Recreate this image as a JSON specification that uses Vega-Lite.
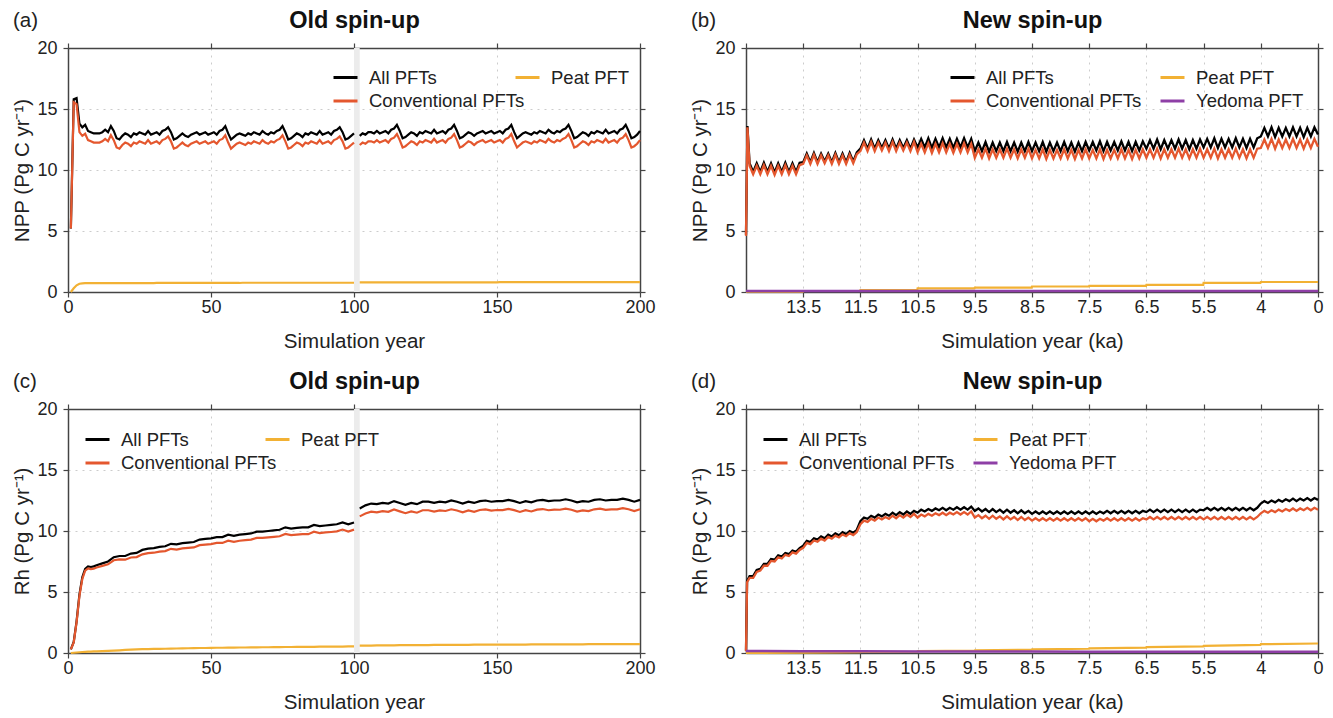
{
"$schema": "https://vega.github.io/schema/vega-lite/v6.json",
"background": "white",
"padding": {"left": 12, "top": 8, "right": 5, "bottom": 5},
"columns": 2,
"spacing": {"row": 117, "column": 106},
"bounds": "flush",
"resolve": {"scale": {"x": "independent", "y": "independent", "color": "independent", "stroke": "independent"}, "axis": {"x": "independent", "y": "independent"}, "legend": {"color": "independent", "stroke": "independent"}},
"datasets": {
"a": [
{"t":1,"a":5.2,"c":5.2,"p":0,"s":1},{"t":2,"a":15.8,"c":15.55,"p":0.3,"s":1},{"t":3,"a":15.9,"c":15.4,"p":0.55,"s":1},{"t":4,"a":13.8,"c":13.1,"p":0.68,"s":1},{"t":5,"a":13.5,"c":12.8,"p":0.71,"s":1},{"t":6,"a":13.7,"c":12.97,"p":0.72,"s":1},{"t":7,"a":13.2,"c":12.45,"p":0.73,"s":1},{"t":8,"a":13.1,"c":12.35,"p":0.73,"s":1},{"t":9,"a":13.0,"c":12.25,"p":0.73,"s":1},{"t":10,"a":13.0,"c":12.25,"p":0.73,"s":1},
{"t":11,"a":13.0,"c":12.25,"p":0.73,"s":1},{"t":12,"a":13.1,"c":12.35,"p":0.73,"s":1},{"t":13,"a":13.3,"c":12.55,"p":0.73,"s":1},{"t":14,"a":13.1,"c":12.35,"p":0.73,"s":1},{"t":15,"a":13.6,"c":12.85,"p":0.73,"s":1},{"t":16,"a":13.2,"c":12.45,"p":0.73,"s":1},{"t":17,"a":12.6,"c":11.85,"p":0.73,"s":1},{"t":18,"a":12.5,"c":11.75,"p":0.73,"s":1},{"t":19,"a":12.8,"c":12.05,"p":0.73,"s":1},{"t":20,"a":13.0,"c":12.25,"p":0.73,"s":1},
{"t":21,"a":12.9,"c":12.15,"p":0.73,"s":1},{"t":22,"a":12.7,"c":11.95,"p":0.73,"s":1},{"t":23,"a":13.0,"c":12.25,"p":0.73,"s":1},{"t":24,"a":12.9,"c":12.15,"p":0.73,"s":1},{"t":25,"a":13.1,"c":12.35,"p":0.73,"s":1},{"t":26,"a":13.0,"c":12.25,"p":0.73,"s":1},{"t":27,"a":12.9,"c":12.15,"p":0.73,"s":1},{"t":28,"a":13.2,"c":12.45,"p":0.73,"s":1},{"t":29,"a":12.9,"c":12.15,"p":0.73,"s":1},{"t":30,"a":13.0,"c":12.25,"p":0.73,"s":1},
{"t":31,"a":13.1,"c":12.35,"p":0.74,"s":1},{"t":32,"a":12.9,"c":12.15,"p":0.74,"s":1},{"t":33,"a":13.2,"c":12.45,"p":0.74,"s":1},{"t":34,"a":13.3,"c":12.55,"p":0.74,"s":1},{"t":35,"a":13.5,"c":12.75,"p":0.74,"s":1},{"t":36,"a":13.1,"c":12.35,"p":0.74,"s":1},{"t":37,"a":12.5,"c":11.75,"p":0.74,"s":1},{"t":38,"a":12.6,"c":11.85,"p":0.74,"s":1},{"t":39,"a":12.8,"c":12.05,"p":0.74,"s":1},{"t":40,"a":13.0,"c":12.25,"p":0.74,"s":1},
{"t":41,"a":12.8,"c":12.05,"p":0.74,"s":1},{"t":42,"a":12.7,"c":11.95,"p":0.74,"s":1},{"t":43,"a":12.9,"c":12.15,"p":0.74,"s":1},{"t":44,"a":13.0,"c":12.25,"p":0.74,"s":1},{"t":45,"a":13.1,"c":12.35,"p":0.74,"s":1},{"t":46,"a":12.9,"c":12.15,"p":0.74,"s":1},{"t":47,"a":13.0,"c":12.25,"p":0.74,"s":1},{"t":48,"a":13.1,"c":12.35,"p":0.74,"s":1},{"t":49,"a":12.9,"c":12.15,"p":0.74,"s":1},{"t":50,"a":13.0,"c":12.25,"p":0.74,"s":1},
{"t":51,"a":13.1,"c":12.35,"p":0.74,"s":1},{"t":52,"a":12.9,"c":12.15,"p":0.74,"s":1},{"t":53,"a":13.2,"c":12.45,"p":0.74,"s":1},{"t":54,"a":13.3,"c":12.55,"p":0.74,"s":1},{"t":55,"a":13.6,"c":12.85,"p":0.74,"s":1},{"t":56,"a":13.0,"c":12.25,"p":0.74,"s":1},{"t":57,"a":12.5,"c":11.75,"p":0.74,"s":1},{"t":58,"a":12.7,"c":11.95,"p":0.74,"s":1},{"t":59,"a":12.9,"c":12.15,"p":0.74,"s":1},{"t":60,"a":13.0,"c":12.25,"p":0.74,"s":1},
{"t":61,"a":12.9,"c":12.15,"p":0.76,"s":1},{"t":62,"a":12.8,"c":12.05,"p":0.76,"s":1},{"t":63,"a":13.0,"c":12.25,"p":0.76,"s":1},{"t":64,"a":12.9,"c":12.15,"p":0.76,"s":1},{"t":65,"a":13.1,"c":12.35,"p":0.76,"s":1},{"t":66,"a":13.0,"c":12.25,"p":0.76,"s":1},{"t":67,"a":12.9,"c":12.15,"p":0.76,"s":1},{"t":68,"a":13.2,"c":12.45,"p":0.76,"s":1},{"t":69,"a":13.0,"c":12.25,"p":0.76,"s":1},{"t":70,"a":12.9,"c":12.15,"p":0.76,"s":1},
{"t":71,"a":13.1,"c":12.35,"p":0.76,"s":1},{"t":72,"a":13.0,"c":12.25,"p":0.76,"s":1},{"t":73,"a":13.2,"c":12.45,"p":0.76,"s":1},{"t":74,"a":13.3,"c":12.55,"p":0.76,"s":1},{"t":75,"a":13.6,"c":12.85,"p":0.76,"s":1},{"t":76,"a":13.1,"c":12.35,"p":0.76,"s":1},{"t":77,"a":12.5,"c":11.75,"p":0.76,"s":1},{"t":78,"a":12.6,"c":11.85,"p":0.76,"s":1},{"t":79,"a":12.8,"c":12.05,"p":0.76,"s":1},{"t":80,"a":13.0,"c":12.25,"p":0.76,"s":1},
{"t":81,"a":12.9,"c":12.15,"p":0.76,"s":1},{"t":82,"a":12.7,"c":11.95,"p":0.76,"s":1},{"t":83,"a":13.0,"c":12.25,"p":0.76,"s":1},{"t":84,"a":12.9,"c":12.15,"p":0.76,"s":1},{"t":85,"a":13.1,"c":12.35,"p":0.76,"s":1},{"t":86,"a":13.0,"c":12.25,"p":0.76,"s":1},{"t":87,"a":12.9,"c":12.15,"p":0.76,"s":1},{"t":88,"a":13.2,"c":12.45,"p":0.76,"s":1},{"t":89,"a":12.9,"c":12.15,"p":0.76,"s":1},{"t":90,"a":13.0,"c":12.25,"p":0.76,"s":1},
{"t":91,"a":13.1,"c":12.35,"p":0.76,"s":1},{"t":92,"a":12.9,"c":12.15,"p":0.76,"s":1},{"t":93,"a":13.2,"c":12.45,"p":0.76,"s":1},{"t":94,"a":13.3,"c":12.55,"p":0.76,"s":1},{"t":95,"a":13.5,"c":12.75,"p":0.76,"s":1},{"t":96,"a":13.1,"c":12.35,"p":0.76,"s":1},{"t":97,"a":12.5,"c":11.75,"p":0.76,"s":1},{"t":98,"a":12.6,"c":11.85,"p":0.76,"s":1},{"t":99,"a":12.8,"c":12.05,"p":0.76,"s":1},{"t":100,"a":13.0,"c":12.25,"p":0.76,"s":1},
{"t":102,"a":12.8,"c":12.05,"p":0.79,"s":2},{"t":103,"a":13.0,"c":12.25,"p":0.79,"s":2},{"t":104,"a":12.9,"c":12.15,"p":0.79,"s":2},{"t":105,"a":13.1,"c":12.35,"p":0.79,"s":2},{"t":106,"a":13.1,"c":12.35,"p":0.79,"s":2},{"t":107,"a":13.0,"c":12.25,"p":0.79,"s":2},{"t":108,"a":13.2,"c":12.45,"p":0.79,"s":2},{"t":109,"a":13.0,"c":12.25,"p":0.79,"s":2},{"t":110,"a":13.1,"c":12.35,"p":0.79,"s":2},
{"t":111,"a":13.2,"c":12.45,"p":0.79,"s":2},{"t":112,"a":13.0,"c":12.25,"p":0.79,"s":2},{"t":113,"a":13.3,"c":12.55,"p":0.79,"s":2},{"t":114,"a":13.4,"c":12.65,"p":0.79,"s":2},{"t":115,"a":13.7,"c":12.95,"p":0.79,"s":2},{"t":116,"a":13.2,"c":12.45,"p":0.79,"s":2},{"t":117,"a":12.6,"c":11.85,"p":0.79,"s":2},{"t":118,"a":12.7,"c":11.95,"p":0.79,"s":2},{"t":119,"a":12.9,"c":12.15,"p":0.79,"s":2},{"t":120,"a":13.1,"c":12.35,"p":0.79,"s":2},
{"t":121,"a":13.0,"c":12.25,"p":0.79,"s":2},{"t":122,"a":12.8,"c":12.05,"p":0.79,"s":2},{"t":123,"a":13.1,"c":12.35,"p":0.79,"s":2},{"t":124,"a":13.0,"c":12.25,"p":0.79,"s":2},{"t":125,"a":13.2,"c":12.45,"p":0.79,"s":2},{"t":126,"a":13.1,"c":12.35,"p":0.79,"s":2},{"t":127,"a":13.0,"c":12.25,"p":0.79,"s":2},{"t":128,"a":13.3,"c":12.55,"p":0.79,"s":2},{"t":129,"a":13.0,"c":12.25,"p":0.79,"s":2},{"t":130,"a":13.1,"c":12.35,"p":0.79,"s":2},
{"t":131,"a":13.2,"c":12.45,"p":0.79,"s":2},{"t":132,"a":13.0,"c":12.25,"p":0.79,"s":2},{"t":133,"a":13.3,"c":12.55,"p":0.79,"s":2},{"t":134,"a":13.4,"c":12.65,"p":0.79,"s":2},{"t":135,"a":13.7,"c":12.95,"p":0.79,"s":2},{"t":136,"a":13.2,"c":12.45,"p":0.79,"s":2},{"t":137,"a":12.6,"c":11.85,"p":0.79,"s":2},{"t":138,"a":12.7,"c":11.95,"p":0.79,"s":2},{"t":139,"a":12.9,"c":12.15,"p":0.79,"s":2},{"t":140,"a":13.1,"c":12.35,"p":0.79,"s":2},
{"t":141,"a":13.0,"c":12.25,"p":0.79,"s":2},{"t":142,"a":12.8,"c":12.05,"p":0.79,"s":2},{"t":143,"a":13.0,"c":12.25,"p":0.79,"s":2},{"t":144,"a":13.1,"c":12.35,"p":0.79,"s":2},{"t":145,"a":13.2,"c":12.45,"p":0.79,"s":2},{"t":146,"a":13.0,"c":12.25,"p":0.79,"s":2},{"t":147,"a":13.1,"c":12.35,"p":0.79,"s":2},{"t":148,"a":13.2,"c":12.45,"p":0.79,"s":2},{"t":149,"a":13.0,"c":12.25,"p":0.79,"s":2},{"t":150,"a":13.1,"c":12.35,"p":0.79,"s":2},
{"t":151,"a":13.2,"c":12.45,"p":0.81,"s":2},{"t":152,"a":13.0,"c":12.25,"p":0.81,"s":2},{"t":153,"a":13.3,"c":12.55,"p":0.81,"s":2},{"t":154,"a":13.4,"c":12.65,"p":0.81,"s":2},{"t":155,"a":13.7,"c":12.95,"p":0.81,"s":2},{"t":156,"a":13.1,"c":12.35,"p":0.81,"s":2},{"t":157,"a":12.6,"c":11.85,"p":0.81,"s":2},{"t":158,"a":12.8,"c":12.05,"p":0.81,"s":2},{"t":159,"a":13.0,"c":12.25,"p":0.81,"s":2},{"t":160,"a":13.1,"c":12.35,"p":0.81,"s":2},
{"t":161,"a":13.0,"c":12.25,"p":0.81,"s":2},{"t":162,"a":12.9,"c":12.15,"p":0.81,"s":2},{"t":163,"a":13.1,"c":12.35,"p":0.81,"s":2},{"t":164,"a":13.0,"c":12.25,"p":0.81,"s":2},{"t":165,"a":13.2,"c":12.45,"p":0.81,"s":2},{"t":166,"a":13.1,"c":12.35,"p":0.81,"s":2},{"t":167,"a":13.0,"c":12.25,"p":0.81,"s":2},{"t":168,"a":13.3,"c":12.55,"p":0.81,"s":2},{"t":169,"a":13.1,"c":12.35,"p":0.81,"s":2},{"t":170,"a":13.0,"c":12.25,"p":0.81,"s":2},
{"t":171,"a":13.2,"c":12.45,"p":0.81,"s":2},{"t":172,"a":13.1,"c":12.35,"p":0.81,"s":2},{"t":173,"a":13.3,"c":12.55,"p":0.81,"s":2},{"t":174,"a":13.4,"c":12.65,"p":0.81,"s":2},{"t":175,"a":13.7,"c":12.95,"p":0.81,"s":2},{"t":176,"a":13.2,"c":12.45,"p":0.81,"s":2},{"t":177,"a":12.6,"c":11.85,"p":0.81,"s":2},{"t":178,"a":12.7,"c":11.95,"p":0.81,"s":2},{"t":179,"a":12.9,"c":12.15,"p":0.81,"s":2},{"t":180,"a":13.1,"c":12.35,"p":0.81,"s":2},
{"t":181,"a":13.0,"c":12.25,"p":0.81,"s":2},{"t":182,"a":12.8,"c":12.05,"p":0.81,"s":2},{"t":183,"a":13.1,"c":12.35,"p":0.81,"s":2},{"t":184,"a":13.0,"c":12.25,"p":0.81,"s":2},{"t":185,"a":13.2,"c":12.45,"p":0.81,"s":2},{"t":186,"a":13.1,"c":12.35,"p":0.81,"s":2},{"t":187,"a":13.0,"c":12.25,"p":0.81,"s":2},{"t":188,"a":13.3,"c":12.55,"p":0.81,"s":2},{"t":189,"a":13.0,"c":12.25,"p":0.81,"s":2},{"t":190,"a":13.1,"c":12.35,"p":0.81,"s":2},
{"t":191,"a":13.2,"c":12.45,"p":0.81,"s":2},{"t":192,"a":13.0,"c":12.25,"p":0.81,"s":2},{"t":193,"a":13.3,"c":12.55,"p":0.81,"s":2},{"t":194,"a":13.4,"c":12.65,"p":0.81,"s":2},{"t":195,"a":13.7,"c":12.95,"p":0.81,"s":2},{"t":196,"a":13.2,"c":12.45,"p":0.81,"s":2},{"t":197,"a":12.6,"c":11.85,"p":0.81,"s":2},{"t":198,"a":12.7,"c":11.95,"p":0.81,"s":2},{"t":199,"a":12.9,"c":12.15,"p":0.81,"s":2},{"t":200,"a":13.2,"c":12.45,"p":0.81,"s":2}
],
"c": [
{"t":1,"a":0.3,"c":0.3,"p":0,"s":1},{"t":2,"a":0.9,"c":0.86,"p":0.02,"s":1},{"t":3,"a":2.6,"c":2.52,"p":0.04,"s":1},{"t":4,"a":4.8,"c":4.69,"p":0.06,"s":1},{"t":5,"a":6.2,"c":6.07,"p":0.08,"s":1},{"t":6,"a":6.9,"c":6.75,"p":0.1,"s":1},{"t":7,"a":7.1,"c":6.94,"p":0.11,"s":1},{"t":8,"a":7.05,"c":6.88,"p":0.12,"s":1},{"t":9,"a":7.1,"c":6.92,"p":0.13,"s":1},{"t":10,"a":7.2,"c":7.01,"p":0.14,"s":1},
{"t":12,"a":7.35,"c":7.14,"p":0.16,"s":1},{"t":14,"a":7.5,"c":7.27,"p":0.18,"s":1},{"t":16,"a":7.85,"c":7.6,"p":0.2,"s":1},{"t":18,"a":7.95,"c":7.68,"p":0.22,"s":1},{"t":20,"a":7.95,"c":7.65,"p":0.25,"s":1},{"t":22,"a":8.15,"c":7.83,"p":0.27,"s":1},{"t":24,"a":8.2,"c":7.86,"p":0.29,"s":1},{"t":26,"a":8.45,"c":8.09,"p":0.31,"s":1},{"t":28,"a":8.55,"c":8.18,"p":0.32,"s":1},{"t":30,"a":8.6,"c":8.22,"p":0.33,"s":1},
{"t":32,"a":8.7,"c":8.31,"p":0.34,"s":1},{"t":34,"a":8.75,"c":8.35,"p":0.35,"s":1},{"t":36,"a":8.95,"c":8.54,"p":0.36,"s":1},{"t":38,"a":8.9,"c":8.48,"p":0.37,"s":1},{"t":40,"a":9.0,"c":8.57,"p":0.38,"s":1},{"t":42,"a":9.05,"c":8.61,"p":0.39,"s":1},{"t":44,"a":9.1,"c":8.65,"p":0.4,"s":1},{"t":46,"a":9.3,"c":8.84,"p":0.41,"s":1},{"t":48,"a":9.35,"c":8.89,"p":0.41,"s":1},{"t":50,"a":9.4,"c":8.93,"p":0.42,"s":1},
{"t":52,"a":9.5,"c":9.02,"p":0.43,"s":1},{"t":54,"a":9.5,"c":9.02,"p":0.43,"s":1},{"t":56,"a":9.7,"c":9.21,"p":0.44,"s":1},{"t":58,"a":9.6,"c":9.11,"p":0.44,"s":1},{"t":60,"a":9.7,"c":9.2,"p":0.45,"s":1},{"t":62,"a":9.75,"c":9.25,"p":0.45,"s":1},{"t":64,"a":9.8,"c":9.29,"p":0.46,"s":1},{"t":66,"a":9.95,"c":9.44,"p":0.46,"s":1},{"t":68,"a":9.95,"c":9.43,"p":0.47,"s":1},{"t":70,"a":10.0,"c":9.48,"p":0.47,"s":1},
{"t":72,"a":10.05,"c":9.52,"p":0.48,"s":1},{"t":74,"a":10.1,"c":9.57,"p":0.48,"s":1},{"t":76,"a":10.3,"c":9.76,"p":0.49,"s":1},{"t":78,"a":10.2,"c":9.66,"p":0.49,"s":1},{"t":80,"a":10.25,"c":9.7,"p":0.5,"s":1},{"t":82,"a":10.3,"c":9.75,"p":0.5,"s":1},{"t":84,"a":10.3,"c":9.74,"p":0.51,"s":1},{"t":86,"a":10.5,"c":9.94,"p":0.51,"s":1},{"t":88,"a":10.4,"c":9.83,"p":0.52,"s":1},{"t":90,"a":10.45,"c":9.88,"p":0.52,"s":1},
{"t":92,"a":10.5,"c":9.92,"p":0.53,"s":1},{"t":94,"a":10.55,"c":9.97,"p":0.53,"s":1},{"t":96,"a":10.7,"c":10.12,"p":0.53,"s":1},{"t":98,"a":10.55,"c":9.96,"p":0.54,"s":1},{"t":100,"a":10.7,"c":10.11,"p":0.54,"s":1},
{"t":102,"a":11.85,"c":11.2,"p":0.6,"s":2},{"t":104,"a":12.1,"c":11.44,"p":0.61,"s":2},{"t":106,"a":12.25,"c":11.59,"p":0.61,"s":2},{"t":108,"a":12.2,"c":11.53,"p":0.62,"s":2},{"t":110,"a":12.3,"c":11.63,"p":0.62,"s":2},{"t":112,"a":12.25,"c":11.57,"p":0.63,"s":2},{"t":114,"a":12.45,"c":11.77,"p":0.63,"s":2},{"t":116,"a":12.3,"c":11.61,"p":0.64,"s":2},{"t":118,"a":12.15,"c":11.46,"p":0.64,"s":2},{"t":120,"a":12.3,"c":11.61,"p":0.64,"s":2},
{"t":122,"a":12.2,"c":11.5,"p":0.65,"s":2},{"t":124,"a":12.4,"c":11.7,"p":0.65,"s":2},{"t":126,"a":12.4,"c":11.7,"p":0.65,"s":2},{"t":128,"a":12.3,"c":11.59,"p":0.66,"s":2},{"t":130,"a":12.4,"c":11.69,"p":0.66,"s":2},{"t":132,"a":12.35,"c":11.64,"p":0.66,"s":2},{"t":134,"a":12.5,"c":11.78,"p":0.67,"s":2},{"t":136,"a":12.4,"c":11.68,"p":0.67,"s":2},{"t":138,"a":12.25,"c":11.53,"p":0.67,"s":2},{"t":140,"a":12.4,"c":11.68,"p":0.67,"s":2},
{"t":142,"a":12.3,"c":11.57,"p":0.68,"s":2},{"t":144,"a":12.45,"c":11.72,"p":0.68,"s":2},{"t":146,"a":12.5,"c":11.77,"p":0.68,"s":2},{"t":148,"a":12.4,"c":11.67,"p":0.68,"s":2},{"t":150,"a":12.45,"c":11.72,"p":0.68,"s":2},{"t":152,"a":12.45,"c":11.71,"p":0.69,"s":2},{"t":154,"a":12.55,"c":11.81,"p":0.69,"s":2},{"t":156,"a":12.45,"c":11.71,"p":0.69,"s":2},{"t":158,"a":12.3,"c":11.56,"p":0.69,"s":2},{"t":160,"a":12.45,"c":11.71,"p":0.69,"s":2},
{"t":162,"a":12.35,"c":11.6,"p":0.7,"s":2},{"t":164,"a":12.5,"c":11.75,"p":0.7,"s":2},{"t":166,"a":12.55,"c":11.8,"p":0.7,"s":2},{"t":168,"a":12.45,"c":11.7,"p":0.7,"s":2},{"t":170,"a":12.5,"c":11.75,"p":0.7,"s":2},{"t":172,"a":12.5,"c":11.74,"p":0.71,"s":2},{"t":174,"a":12.6,"c":11.84,"p":0.71,"s":2},{"t":176,"a":12.5,"c":11.74,"p":0.71,"s":2},{"t":178,"a":12.35,"c":11.59,"p":0.71,"s":2},{"t":180,"a":12.45,"c":11.69,"p":0.71,"s":2},
{"t":182,"a":12.4,"c":11.63,"p":0.72,"s":2},{"t":184,"a":12.55,"c":11.78,"p":0.72,"s":2},{"t":186,"a":12.6,"c":11.83,"p":0.72,"s":2},{"t":188,"a":12.5,"c":11.73,"p":0.72,"s":2},{"t":190,"a":12.55,"c":11.78,"p":0.72,"s":2},{"t":192,"a":12.55,"c":11.78,"p":0.72,"s":2},{"t":194,"a":12.65,"c":11.88,"p":0.72,"s":2},{"t":196,"a":12.55,"c":11.78,"p":0.72,"s":2},{"t":198,"a":12.4,"c":11.63,"p":0.72,"s":2},{"t":200,"a":12.55,"c":11.78,"p":0.72,"s":2}
],
"b": [
{"x":0,"a":4.7,"c":4.6},{"x":0.4,"a":13.6,"c":13.5},
{"x":1,"a":10.55,"c":10.35},{"x":2,"a":9.85,"c":9.65},{"x":3,"a":10.55,"c":10.35},{"x":4,"a":9.85,"c":9.65},{"x":5,"a":10.6,"c":10.4},{"x":6,"a":9.85,"c":9.65},{"x":7,"a":10.55,"c":10.35},{"x":8,"a":9.8,"c":9.6},{"x":9,"a":10.55,"c":10.35},{"x":10,"a":9.85,"c":9.65},{"x":11,"a":10.6,"c":10.4},{"x":12,"a":9.85,"c":9.65},{"x":13,"a":10.55,"c":10.35},{"x":14,"a":9.85,"c":9.65},{"x":15,"a":10.6,"c":10.4},
{"x":16,"a":10.65,"c":10.5},{"x":17,"a":11.35,"c":11.2},{"x":18,"a":10.65,"c":10.5},{"x":19,"a":11.4,"c":11.25},{"x":20,"a":10.65,"c":10.5},{"x":21,"a":11.35,"c":11.2},{"x":22,"a":10.7,"c":10.55},{"x":23,"a":11.35,"c":11.2},{"x":24,"a":10.65,"c":10.5},{"x":25,"a":11.4,"c":11.25},{"x":26,"a":10.65,"c":10.5},{"x":27,"a":11.35,"c":11.2},{"x":28,"a":10.65,"c":10.5},{"x":29,"a":11.4,"c":11.25},{"x":30,"a":10.7,"c":10.55},{"x":31,"a":11.45,"c":11.3},
{"x":32,"a":11.75,"c":11.55},{"x":33,"a":12.45,"c":12.25},{"x":34,"a":11.75,"c":11.55},{"x":35,"a":12.5,"c":12.3},{"x":36,"a":11.75,"c":11.55},{"x":37,"a":12.45,"c":12.25},{"x":38,"a":11.8,"c":11.6},{"x":39,"a":12.45,"c":12.25},{"x":40,"a":11.75,"c":11.55},{"x":41,"a":12.5,"c":12.3},{"x":42,"a":11.75,"c":11.55},{"x":43,"a":12.45,"c":12.25},{"x":44,"a":11.8,"c":11.6},{"x":45,"a":12.45,"c":12.25},{"x":46,"a":11.75,"c":11.55},{"x":47,"a":12.5,"c":12.3},
{"x":48,"a":11.85,"c":11.45},{"x":49,"a":12.55,"c":12.15},{"x":50,"a":11.85,"c":11.45},{"x":51,"a":12.6,"c":12.2},{"x":52,"a":11.8,"c":11.4},{"x":53,"a":12.55,"c":12.15},{"x":54,"a":11.85,"c":11.45},{"x":55,"a":12.6,"c":12.2},{"x":56,"a":11.85,"c":11.45},{"x":57,"a":12.55,"c":12.15},{"x":58,"a":11.8,"c":11.4},{"x":59,"a":12.55,"c":12.15},{"x":60,"a":11.85,"c":11.45},{"x":61,"a":12.6,"c":12.2},{"x":62,"a":11.85,"c":11.45},{"x":63,"a":12.55,"c":12.15},
{"x":64,"a":11.55,"c":11.0},{"x":65,"a":12.25,"c":11.7},{"x":66,"a":11.55,"c":11.0},{"x":67,"a":12.3,"c":11.75},{"x":68,"a":11.5,"c":10.95},{"x":69,"a":12.25,"c":11.7},{"x":70,"a":11.55,"c":11.0},{"x":71,"a":12.25,"c":11.7},{"x":72,"a":11.55,"c":11.0},{"x":73,"a":12.3,"c":11.75},{"x":74,"a":11.55,"c":11.0},{"x":75,"a":12.25,"c":11.7},{"x":76,"a":11.5,"c":10.95},{"x":77,"a":12.25,"c":11.7},{"x":78,"a":11.55,"c":11.0},{"x":79,"a":12.3,"c":11.75},
{"x":80,"a":11.55,"c":10.95},{"x":81,"a":12.25,"c":11.65},{"x":82,"a":11.55,"c":10.95},{"x":83,"a":12.3,"c":11.7},{"x":84,"a":11.5,"c":10.9},{"x":85,"a":12.25,"c":11.65},{"x":86,"a":11.55,"c":10.95},{"x":87,"a":12.25,"c":11.65},{"x":88,"a":11.55,"c":10.95},{"x":89,"a":12.3,"c":11.7},{"x":90,"a":11.55,"c":10.95},{"x":91,"a":12.25,"c":11.65},{"x":92,"a":11.5,"c":10.9},{"x":93,"a":12.25,"c":11.65},{"x":94,"a":11.55,"c":10.95},{"x":95,"a":12.3,"c":11.7},
{"x":96,"a":11.6,"c":10.95},{"x":97,"a":12.3,"c":11.65},{"x":98,"a":11.6,"c":10.95},{"x":99,"a":12.35,"c":11.7},{"x":100,"a":11.55,"c":10.9},{"x":101,"a":12.3,"c":11.65},{"x":102,"a":11.6,"c":10.95},{"x":103,"a":12.3,"c":11.65},{"x":104,"a":11.6,"c":10.95},{"x":105,"a":12.35,"c":11.7},{"x":106,"a":11.6,"c":10.95},{"x":107,"a":12.3,"c":11.65},{"x":108,"a":11.55,"c":10.9},{"x":109,"a":12.3,"c":11.65},{"x":110,"a":11.6,"c":10.95},{"x":111,"a":12.35,"c":11.7},
{"x":112,"a":11.75,"c":11.0},{"x":113,"a":12.45,"c":11.7},{"x":114,"a":11.75,"c":11.0},{"x":115,"a":12.5,"c":11.75},{"x":116,"a":11.7,"c":10.95},{"x":117,"a":12.45,"c":11.7},{"x":118,"a":11.75,"c":11.0},{"x":119,"a":12.45,"c":11.7},{"x":120,"a":11.75,"c":11.0},{"x":121,"a":12.5,"c":11.75},{"x":122,"a":11.75,"c":11.0},{"x":123,"a":12.45,"c":11.7},{"x":124,"a":11.7,"c":10.95},{"x":125,"a":12.45,"c":11.7},{"x":126,"a":11.75,"c":11.0},{"x":127,"a":12.5,"c":11.75},
{"x":128,"a":11.85,"c":11.0},{"x":129,"a":12.55,"c":11.7},{"x":130,"a":11.85,"c":11.0},{"x":131,"a":12.6,"c":11.75},{"x":132,"a":11.8,"c":10.95},{"x":133,"a":12.55,"c":11.7},{"x":134,"a":11.85,"c":11.0},{"x":135,"a":12.55,"c":11.7},{"x":136,"a":11.85,"c":11.0},{"x":137,"a":12.6,"c":11.75},{"x":138,"a":11.85,"c":11.0},{"x":139,"a":12.55,"c":11.7},{"x":140,"a":11.8,"c":10.95},{"x":141,"a":12.55,"c":11.7},{"x":142,"a":11.85,"c":11.0},{"x":143,"a":12.6,"c":11.75},
{"x":144,"a":12.75,"c":11.8},{"x":145,"a":13.45,"c":12.5},{"x":146,"a":12.75,"c":11.8},{"x":147,"a":13.5,"c":12.55},{"x":148,"a":12.7,"c":11.75},{"x":149,"a":13.45,"c":12.5},{"x":150,"a":12.75,"c":11.8},{"x":151,"a":13.45,"c":12.5},{"x":152,"a":12.75,"c":11.8},{"x":153,"a":13.5,"c":12.55},{"x":154,"a":12.75,"c":11.8},{"x":155,"a":13.45,"c":12.5},{"x":156,"a":12.7,"c":11.75},{"x":157,"a":13.45,"c":12.5},{"x":158,"a":12.75,"c":11.8},{"x":159,"a":13.5,"c":12.55},{"x":160,"a":12.9,"c":11.9}
],
"bf": [
{"x":0,"p":0.02,"y":0.08},{"x":15.9,"p":0.02,"y":0.08},{"x":16,"p":0.08,"y":0.08},{"x":31.9,"p":0.08,"y":0.08},{"x":32,"p":0.15,"y":0.08},{"x":47.9,"p":0.15,"y":0.08},{"x":48,"p":0.3,"y":0.08},{"x":63.9,"p":0.3,"y":0.08},{"x":64,"p":0.36,"y":0.08},{"x":79.9,"p":0.36,"y":0.08},{"x":80,"p":0.45,"y":0.08},{"x":95.9,"p":0.45,"y":0.08},{"x":96,"p":0.5,"y":0.08},{"x":111.9,"p":0.5,"y":0.08},{"x":112,"p":0.58,"y":0.08},{"x":127.9,"p":0.58,"y":0.08},{"x":128,"p":0.75,"y":0.08},{"x":143.9,"p":0.75,"y":0.08},{"x":144,"p":0.82,"y":0.08},{"x":160,"p":0.82,"y":0.08}
],
"d": [
{"x":0,"a":0.2,"c":0.15},{"x":0.3,"a":5.9,"c":5.8},
{"x":1,"a":6.3,"c":6.15},{"x":2,"a":6.3,"c":6.15},{"x":3,"a":6.8,"c":6.65},{"x":4,"a":6.9,"c":6.75},{"x":5,"a":7.3,"c":7.15},{"x":6,"a":7.3,"c":7.15},{"x":7,"a":7.7,"c":7.55},{"x":8,"a":7.65,"c":7.5},{"x":9,"a":8.0,"c":7.85},{"x":10,"a":7.9,"c":7.75},{"x":11,"a":8.2,"c":8.05},{"x":12,"a":8.1,"c":7.95},{"x":13,"a":8.4,"c":8.25},{"x":14,"a":8.3,"c":8.15},{"x":15,"a":8.6,"c":8.45},
{"x":16,"a":8.8,"c":8.62},{"x":17,"a":9.2,"c":9.02},{"x":18,"a":9.1,"c":8.92},{"x":19,"a":9.4,"c":9.22},{"x":20,"a":9.3,"c":9.12},{"x":21,"a":9.55,"c":9.37},{"x":22,"a":9.4,"c":9.22},{"x":23,"a":9.7,"c":9.52},{"x":24,"a":9.55,"c":9.37},{"x":25,"a":9.8,"c":9.62},{"x":26,"a":9.65,"c":9.47},{"x":27,"a":9.9,"c":9.72},{"x":28,"a":9.75,"c":9.57},{"x":29,"a":10.0,"c":9.82},{"x":30,"a":9.85,"c":9.67},{"x":31,"a":10.1,"c":9.92},
{"x":32,"a":10.8,"c":10.55},{"x":33,"a":11.1,"c":10.85},{"x":34,"a":11.0,"c":10.75},{"x":35,"a":11.25,"c":11.0},{"x":36,"a":11.1,"c":10.85},{"x":37,"a":11.35,"c":11.1},{"x":38,"a":11.2,"c":10.95},{"x":39,"a":11.4,"c":11.15},{"x":40,"a":11.25,"c":11.0},{"x":41,"a":11.5,"c":11.25},{"x":42,"a":11.3,"c":11.05},{"x":43,"a":11.55,"c":11.3},{"x":44,"a":11.35,"c":11.1},{"x":45,"a":11.6,"c":11.35},{"x":46,"a":11.4,"c":11.15},{"x":47,"a":11.65,"c":11.4},
{"x":48,"a":11.5,"c":11.1},{"x":49,"a":11.75,"c":11.35},{"x":50,"a":11.6,"c":11.2},{"x":51,"a":11.8,"c":11.4},{"x":52,"a":11.65,"c":11.25},{"x":53,"a":11.85,"c":11.45},{"x":54,"a":11.7,"c":11.3},{"x":55,"a":11.9,"c":11.5},{"x":56,"a":11.7,"c":11.3},{"x":57,"a":11.9,"c":11.5},{"x":58,"a":11.75,"c":11.35},{"x":59,"a":11.95,"c":11.55},{"x":60,"a":11.75,"c":11.35},{"x":61,"a":11.95,"c":11.55},{"x":62,"a":11.75,"c":11.35},{"x":63,"a":12.0,"c":11.6},
{"x":64,"a":11.65,"c":11.1},{"x":65,"a":11.85,"c":11.3},{"x":66,"a":11.6,"c":11.05},{"x":67,"a":11.8,"c":11.25},{"x":68,"a":11.55,"c":11.0},{"x":69,"a":11.8,"c":11.25},{"x":70,"a":11.55,"c":11.0},{"x":71,"a":11.75,"c":11.2},{"x":72,"a":11.5,"c":10.95},{"x":73,"a":11.75,"c":11.2},{"x":74,"a":11.5,"c":10.95},{"x":75,"a":11.7,"c":11.15},{"x":76,"a":11.45,"c":10.9},{"x":77,"a":11.7,"c":11.15},{"x":78,"a":11.45,"c":10.9},{"x":79,"a":11.65,"c":11.1},
{"x":80,"a":11.4,"c":10.85},{"x":81,"a":11.6,"c":11.05},{"x":82,"a":11.4,"c":10.85},{"x":83,"a":11.6,"c":11.05},{"x":84,"a":11.4,"c":10.85},{"x":85,"a":11.6,"c":11.05},{"x":86,"a":11.4,"c":10.85},{"x":87,"a":11.6,"c":11.05},{"x":88,"a":11.4,"c":10.85},{"x":89,"a":11.6,"c":11.05},{"x":90,"a":11.4,"c":10.85},{"x":91,"a":11.6,"c":11.05},{"x":92,"a":11.4,"c":10.85},{"x":93,"a":11.6,"c":11.05},{"x":94,"a":11.4,"c":10.85},{"x":95,"a":11.6,"c":11.05},
{"x":96,"a":11.4,"c":10.8},{"x":97,"a":11.6,"c":11.0},{"x":98,"a":11.4,"c":10.8},{"x":99,"a":11.6,"c":11.0},{"x":100,"a":11.45,"c":10.85},{"x":101,"a":11.65,"c":11.05},{"x":102,"a":11.45,"c":10.85},{"x":103,"a":11.65,"c":11.05},{"x":104,"a":11.45,"c":10.85},{"x":105,"a":11.65,"c":11.05},{"x":106,"a":11.45,"c":10.85},{"x":107,"a":11.65,"c":11.05},{"x":108,"a":11.45,"c":10.85},{"x":109,"a":11.65,"c":11.05},{"x":110,"a":11.45,"c":10.85},{"x":111,"a":11.65,"c":11.05},
{"x":112,"a":11.55,"c":10.95},{"x":113,"a":11.75,"c":11.15},{"x":114,"a":11.55,"c":10.95},{"x":115,"a":11.75,"c":11.15},{"x":116,"a":11.55,"c":10.95},{"x":117,"a":11.75,"c":11.15},{"x":118,"a":11.55,"c":10.95},{"x":119,"a":11.75,"c":11.15},{"x":120,"a":11.55,"c":10.95},{"x":121,"a":11.75,"c":11.15},{"x":122,"a":11.55,"c":10.95},{"x":123,"a":11.75,"c":11.15},{"x":124,"a":11.55,"c":10.95},{"x":125,"a":11.75,"c":11.15},{"x":126,"a":11.55,"c":10.95},{"x":127,"a":11.75,"c":11.15},
{"x":128,"a":11.7,"c":10.95},{"x":129,"a":11.9,"c":11.15},{"x":130,"a":11.7,"c":10.95},{"x":131,"a":11.9,"c":11.15},{"x":132,"a":11.7,"c":10.95},{"x":133,"a":11.9,"c":11.15},{"x":134,"a":11.7,"c":10.95},{"x":135,"a":11.9,"c":11.15},{"x":136,"a":11.7,"c":10.95},{"x":137,"a":11.9,"c":11.15},{"x":138,"a":11.7,"c":10.95},{"x":139,"a":11.9,"c":11.15},{"x":140,"a":11.7,"c":10.95},{"x":141,"a":11.9,"c":11.15},{"x":142,"a":11.7,"c":10.95},{"x":143,"a":11.9,"c":11.15},
{"x":144,"a":12.25,"c":11.45},{"x":145,"a":12.45,"c":11.65},{"x":146,"a":12.3,"c":11.5},{"x":147,"a":12.5,"c":11.7},{"x":148,"a":12.35,"c":11.55},{"x":149,"a":12.55,"c":11.75},{"x":150,"a":12.4,"c":11.6},{"x":151,"a":12.6,"c":11.8},{"x":152,"a":12.45,"c":11.65},{"x":153,"a":12.65,"c":11.85},{"x":154,"a":12.45,"c":11.65},{"x":155,"a":12.65,"c":11.85},{"x":156,"a":12.5,"c":11.7},{"x":157,"a":12.7,"c":11.9},{"x":158,"a":12.5,"c":11.7},{"x":159,"a":12.7,"c":11.9},{"x":160,"a":12.55,"c":11.75}
],
"df": [
{"x":0,"p":0.0,"y":0.16},{"x":15.9,"p":0.02,"y":0.15},{"x":16,"p":0.03,"y":0.15},{"x":31.9,"p":0.06,"y":0.14},{"x":32,"p":0.08,"y":0.14},{"x":47.9,"p":0.11,"y":0.13},{"x":48,"p":0.15,"y":0.13},{"x":63.9,"p":0.2,"y":0.12},{"x":64,"p":0.22,"y":0.12},{"x":79.9,"p":0.27,"y":0.12},{"x":80,"p":0.3,"y":0.12},{"x":95.9,"p":0.35,"y":0.11},{"x":96,"p":0.38,"y":0.11},{"x":111.9,"p":0.44,"y":0.11},{"x":112,"p":0.48,"y":0.11},{"x":127.9,"p":0.55,"y":0.1},{"x":128,"p":0.58,"y":0.1},{"x":143.9,"p":0.66,"y":0.1},{"x":144,"p":0.72,"y":0.1},{"x":160,"p":0.78,"y":0.1}
]
},
"concat": [
{
"width": 572, "height": 244,
"title": {"text": "(a)"},
"resolve": {"axis": {"x": "independent", "y": "independent"}},
"layer": [
{"data": {"values": [{"x0": 100, "x1": 102}]}, "mark": {"type": "rect", "color": "#ececec"},
 "encoding": {
  "x": {"field": "x0", "type": "quantitative", "scale": {"domain": [0, 200], "nice": false, "zero": false}, "axis": {"orient": "top", "labels": false, "values": [0, 50, 100, 150, 200], "title": "Old spin-up", "titleFontSize": 23.5, "titleFontWeight": "bold", "titleColor": "#111", "titlePadding": 10}},
  "x2": {"field": "x1"},
  "y": {"datum": 0, "type": "quantitative", "scale": {"domain": [0, 20], "nice": false}, "axis": {"orient": "right", "labels": false, "title": null, "values": [0, 5, 10, 15, 20]}},
  "y2": {"datum": 20}}},
{"data": {"name": "a"}, "mark": {"type": "line", "strokeWidth": 2.2},
 "encoding": {
  "x": {"field": "t", "type": "quantitative", "scale": {"domain": [0, 200], "nice": false, "zero": false}, "axis": {"orient": "bottom", "title": "Simulation year", "values": [0, 50, 100, 150, 200], "grid": true}},
  "y": {"field": "a", "type": "quantitative", "scale": {"domain": [0, 20], "nice": false}, "axis": {"orient": "left", "title": "NPP (Pg C yr⁻¹)", "values": [0, 5, 10, 15, 20], "grid": true}},
  "detail": {"field": "s", "type": "nominal"},
  "color": {"datum": "All PFTs", "type": "nominal", "scale": {"domain": ["All PFTs", "Conventional PFTs"], "range": ["#000000", "#E4572E"]}, "legend": {"title": null, "orient": "none", "legendX": 264, "legendY": 16}}}},
{"data": {"name": "a"}, "mark": {"type": "line", "strokeWidth": 2.2},
 "encoding": {
  "x": {"field": "t", "type": "quantitative", "scale": {"domain": [0, 200], "nice": false, "zero": false}, "axis": null},
  "y": {"field": "c", "type": "quantitative", "scale": {"domain": [0, 20], "nice": false}, "axis": null},
  "detail": {"field": "s", "type": "nominal"},
  "color": {"datum": "Conventional PFTs", "type": "nominal"}}},
{"data": {"name": "a"}, "mark": {"type": "line", "strokeWidth": 2.2},
 "encoding": {
  "x": {"field": "t", "type": "quantitative", "scale": {"domain": [0, 200], "nice": false, "zero": false}, "axis": null},
  "y": {"field": "p", "type": "quantitative", "scale": {"domain": [0, 20], "nice": false}, "axis": null},
  "detail": {"field": "s", "type": "nominal"},
  "stroke": {"datum": "Peat PFT", "type": "nominal", "scale": {"domain": ["Peat PFT"], "range": ["#F2B134"]}, "legend": {"title": null, "orient": "none", "legendX": 446, "legendY": 16}}}}
]
},
{
"width": 572, "height": 244,
"title": {"text": "(b)"},
"resolve": {"axis": {"x": "independent", "y": "independent"}},
"layer": [
{"data": {"name": "b"}, "mark": {"type": "line", "strokeWidth": 2.3},
 "encoding": {
  "x": {"field": "x", "type": "quantitative", "scale": {"domain": [0, 160], "nice": false, "zero": false}, "axis": {"orient": "bottom", "title": "Simulation year (ka)", "values": [16, 32, 48, 64, 80, 96, 112, 128, 144, 160], "labelExpr": "['','13.5','11.5','10.5','9.5','8.5','7.5','6.5','5.5','4','0'][round(datum.value/16)]", "grid": true}},
  "y": {"field": "a", "type": "quantitative", "scale": {"domain": [0, 20], "nice": false}, "axis": {"orient": "left", "title": "NPP (Pg C yr⁻¹)", "values": [0, 5, 10, 15, 20], "grid": true}},
  "color": {"datum": "All PFTs", "type": "nominal", "scale": {"domain": ["All PFTs", "Conventional PFTs", "Peat PFT", "Yedoma PFT"], "range": ["#000000", "#E4572E", "#F2B134", "#8E3FA6"]}, "legend": {"title": null, "orient": "none", "legendX": 203, "legendY": 16, "columns": 2, "columnPadding": 12}}}},
{"data": {"name": "b"}, "mark": {"type": "line", "strokeWidth": 2.3},
 "encoding": {
  "x": {"field": "x", "type": "quantitative", "scale": {"domain": [0, 160], "nice": false, "zero": false}, "axis": null},
  "y": {"field": "c", "type": "quantitative", "scale": {"domain": [0, 20], "nice": false}, "axis": null},
  "color": {"datum": "Conventional PFTs", "type": "nominal"}}},
{"data": {"name": "bf"}, "mark": {"type": "line", "strokeWidth": 2.2},
 "encoding": {
  "x": {"field": "x", "type": "quantitative", "scale": {"domain": [0, 160], "nice": false, "zero": false}, "axis": {"orient": "top", "labels": false, "values": [0, 16, 32, 48, 64, 80, 96, 112, 128, 144, 160], "title": "New spin-up", "titleFontSize": 23.5, "titleFontWeight": "bold", "titleColor": "#111", "titlePadding": 10}},
  "y": {"field": "p", "type": "quantitative", "scale": {"domain": [0, 20], "nice": false}, "axis": {"orient": "right", "labels": false, "title": null, "values": [0, 5, 10, 15, 20]}},
  "color": {"datum": "Peat PFT", "type": "nominal"}}},
{"data": {"name": "bf"}, "mark": {"type": "line", "strokeWidth": 2.5},
 "encoding": {
  "x": {"field": "x", "type": "quantitative", "scale": {"domain": [0, 160], "nice": false, "zero": false}, "axis": null},
  "y": {"field": "y", "type": "quantitative", "scale": {"domain": [0, 20], "nice": false}, "axis": null},
  "color": {"datum": "Yedoma PFT", "type": "nominal"}}}
]
},
{
"width": 572, "height": 244,
"title": {"text": "(c)"},
"resolve": {"axis": {"x": "independent", "y": "independent"}},
"layer": [
{"data": {"values": [{"x0": 100, "x1": 102}]}, "mark": {"type": "rect", "color": "#ececec"},
 "encoding": {
  "x": {"field": "x0", "type": "quantitative", "scale": {"domain": [0, 200], "nice": false, "zero": false}, "axis": {"orient": "top", "labels": false, "values": [0, 50, 100, 150, 200], "title": "Old spin-up", "titleFontSize": 23.5, "titleFontWeight": "bold", "titleColor": "#111", "titlePadding": 10}},
  "x2": {"field": "x1"},
  "y": {"datum": 0, "type": "quantitative", "scale": {"domain": [0, 20], "nice": false}, "axis": {"orient": "right", "labels": false, "title": null, "values": [0, 5, 10, 15, 20]}},
  "y2": {"datum": 20}}},
{"data": {"name": "c"}, "mark": {"type": "line", "strokeWidth": 2.2},
 "encoding": {
  "x": {"field": "t", "type": "quantitative", "scale": {"domain": [0, 200], "nice": false, "zero": false}, "axis": {"orient": "bottom", "title": "Simulation year", "values": [0, 50, 100, 150, 200], "grid": true}},
  "y": {"field": "a", "type": "quantitative", "scale": {"domain": [0, 20], "nice": false}, "axis": {"orient": "left", "title": "Rh (Pg C yr⁻¹)", "values": [0, 5, 10, 15, 20], "grid": true}},
  "detail": {"field": "s", "type": "nominal"},
  "color": {"datum": "All PFTs", "type": "nominal", "scale": {"domain": ["All PFTs", "Conventional PFTs"], "range": ["#000000", "#E4572E"]}, "legend": {"title": null, "orient": "none", "legendX": 16, "legendY": 17}}}},
{"data": {"name": "c"}, "mark": {"type": "line", "strokeWidth": 2.2},
 "encoding": {
  "x": {"field": "t", "type": "quantitative", "scale": {"domain": [0, 200], "nice": false, "zero": false}, "axis": null},
  "y": {"field": "c", "type": "quantitative", "scale": {"domain": [0, 20], "nice": false}, "axis": null},
  "detail": {"field": "s", "type": "nominal"},
  "color": {"datum": "Conventional PFTs", "type": "nominal"}}},
{"data": {"name": "c"}, "mark": {"type": "line", "strokeWidth": 2.2},
 "encoding": {
  "x": {"field": "t", "type": "quantitative", "scale": {"domain": [0, 200], "nice": false, "zero": false}, "axis": null},
  "y": {"field": "p", "type": "quantitative", "scale": {"domain": [0, 20], "nice": false}, "axis": null},
  "detail": {"field": "s", "type": "nominal"},
  "stroke": {"datum": "Peat PFT", "type": "nominal", "scale": {"domain": ["Peat PFT"], "range": ["#F2B134"]}, "legend": {"title": null, "orient": "none", "legendX": 196, "legendY": 17}}}}
]
},
{
"width": 572, "height": 244,
"title": {"text": "(d)"},
"resolve": {"axis": {"x": "independent", "y": "independent"}},
"layer": [
{"data": {"name": "d"}, "mark": {"type": "line", "strokeWidth": 2.3},
 "encoding": {
  "x": {"field": "x", "type": "quantitative", "scale": {"domain": [0, 160], "nice": false, "zero": false}, "axis": {"orient": "bottom", "title": "Simulation year (ka)", "values": [16, 32, 48, 64, 80, 96, 112, 128, 144, 160], "labelExpr": "['','13.5','11.5','10.5','9.5','8.5','7.5','6.5','5.5','4','0'][round(datum.value/16)]", "grid": true}},
  "y": {"field": "a", "type": "quantitative", "scale": {"domain": [0, 20], "nice": false}, "axis": {"orient": "left", "title": "Rh (Pg C yr⁻¹)", "values": [0, 5, 10, 15, 20], "grid": true}},
  "color": {"datum": "All PFTs", "type": "nominal", "scale": {"domain": ["All PFTs", "Conventional PFTs", "Peat PFT", "Yedoma PFT"], "range": ["#000000", "#E4572E", "#F2B134", "#8E3FA6"]}, "legend": {"title": null, "orient": "none", "legendX": 16, "legendY": 17, "columns": 2, "columnPadding": 12}}}},
{"data": {"name": "d"}, "mark": {"type": "line", "strokeWidth": 2.3},
 "encoding": {
  "x": {"field": "x", "type": "quantitative", "scale": {"domain": [0, 160], "nice": false, "zero": false}, "axis": null},
  "y": {"field": "c", "type": "quantitative", "scale": {"domain": [0, 20], "nice": false}, "axis": null},
  "color": {"datum": "Conventional PFTs", "type": "nominal"}}},
{"data": {"name": "df"}, "mark": {"type": "line", "strokeWidth": 2.2},
 "encoding": {
  "x": {"field": "x", "type": "quantitative", "scale": {"domain": [0, 160], "nice": false, "zero": false}, "axis": {"orient": "top", "labels": false, "values": [0, 16, 32, 48, 64, 80, 96, 112, 128, 144, 160], "title": "New spin-up", "titleFontSize": 23.5, "titleFontWeight": "bold", "titleColor": "#111", "titlePadding": 10}},
  "y": {"field": "p", "type": "quantitative", "scale": {"domain": [0, 20], "nice": false}, "axis": {"orient": "right", "labels": false, "title": null, "values": [0, 5, 10, 15, 20]}},
  "color": {"datum": "Peat PFT", "type": "nominal"}}},
{"data": {"name": "df"}, "mark": {"type": "line", "strokeWidth": 2.5},
 "encoding": {
  "x": {"field": "x", "type": "quantitative", "scale": {"domain": [0, 160], "nice": false, "zero": false}, "axis": null},
  "y": {"field": "y", "type": "quantitative", "scale": {"domain": [0, 20], "nice": false}, "axis": null},
  "color": {"datum": "Yedoma PFT", "type": "nominal"}}}
]
}
],
"config": {
 "font": "Liberation Sans",
 "view": {"stroke": null},
 "axis": {"grid": false, "labelFontSize": 18, "titleFontSize": 20.5, "titleFontWeight": "normal", "labelColor": "#222", "titleColor": "#222", "domainColor": "#444", "domainWidth": 1.5, "tickColor": "#444", "tickWidth": 1.2, "tickSize": 5, "gridColor": "#cccccc", "gridDash": [2, 5], "gridWidth": 1, "labelFlush": false, "labelOverlap": false},
 "axisX": {"labelPadding": 1, "titlePadding": 15},
 "axisY": {"labelPadding": 6, "titlePadding": 4},
 "title": {"fontSize": 20.5, "fontWeight": "normal", "anchor": "start", "frame": "bounds", "offset": -23, "color": "#222"},
 "legend": {"labelFontSize": 18.5, "labelColor": "#222", "symbolType": "stroke", "symbolSize": 576, "symbolStrokeWidth": 3, "labelOffset": 10, "rowPadding": 0.5, "padding": 0}
}
}
